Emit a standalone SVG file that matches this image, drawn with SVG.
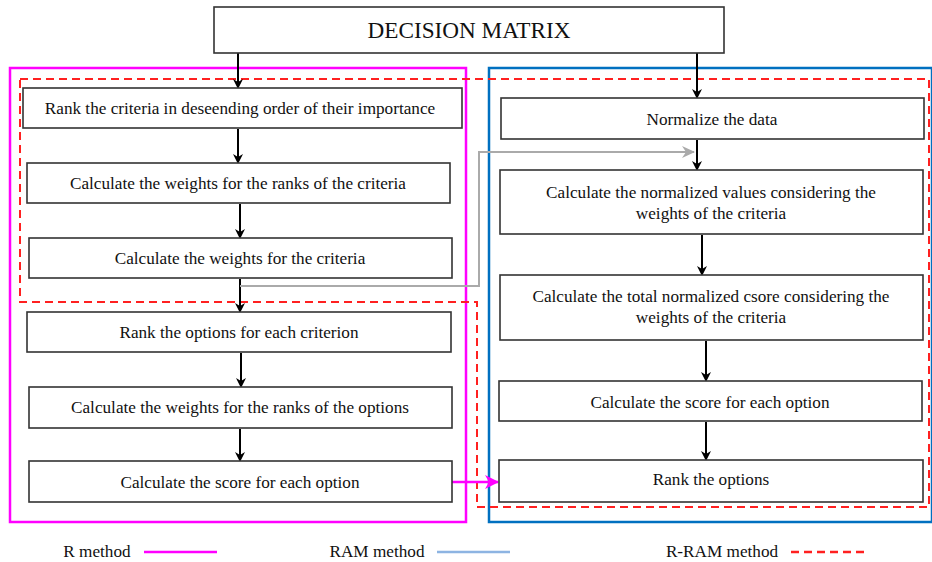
<svg xmlns="http://www.w3.org/2000/svg" width="932" height="562" viewBox="0 0 932 562">
<style>
.box{fill:#fff;stroke:#333;stroke-width:1.6}
.t{font-family:"Liberation Serif","Times New Roman",serif;font-size:17.2px;fill:#111;text-anchor:middle}
.arr{stroke:#000;stroke-width:2;fill:none;marker-end:url(#ah)}
</style>
<defs>
<marker id="ah" markerWidth="10" markerHeight="12" refX="8" refY="5" orient="auto" markerUnits="userSpaceOnUse"><path d="M0,0 L10,5 L0,10 L3,5 Z" fill="#000"/></marker>
<marker id="ahg" markerWidth="14" markerHeight="12" refX="12" refY="6" orient="auto" markerUnits="userSpaceOnUse"><path d="M0,0 L13,6 L0,12 L4,6 Z" fill="#aaa"/></marker>
<marker id="ahm" markerWidth="14" markerHeight="14" refX="13" refY="7" orient="auto" markerUnits="userSpaceOnUse"><path d="M0,0 L14,7 L0,14 L4,7 Z" fill="#ff00ff"/></marker>
</defs>
<g id="frames">
<rect x="10" y="68" width="456" height="454" fill="none" stroke="#ff00ff" stroke-width="2.5"/>
<rect x="489" y="68" width="443" height="454" fill="none" stroke="#0070c0" stroke-width="2.5"/>
<path d="M20,79 L929,79 L929,507 L477,507 L477,302 L20,302 Z" fill="none" stroke="#ff2020" stroke-width="2" stroke-dasharray="8,5"/>
</g>
<g id="connectors">
<line class="arr" x1="238" y1="53" x2="238" y2="87"/>
<line class="arr" x1="238" y1="129" x2="238" y2="162"/>
<line class="arr" x1="240" y1="204" x2="240" y2="237"/>
<line class="arr" x1="240" y1="279" x2="240" y2="311"/>
<line class="arr" x1="241" y1="353" x2="241" y2="386"/>
<line class="arr" x1="240" y1="429" x2="240" y2="460"/>
<line class="arr" x1="697" y1="53" x2="697" y2="97"/>
<line class="arr" x1="697" y1="140" x2="697" y2="169"/>
<line class="arr" x1="702" y1="235" x2="702" y2="274"/>
<line class="arr" x1="706" y1="341" x2="706" y2="380"/>
<line class="arr" x1="706" y1="422" x2="706" y2="459"/>
<path d="M240,286 L479,286 L479,152 L694,152" fill="none" stroke="#aaa" stroke-width="2" marker-end="url(#ahg)"/>
<line x1="452" y1="482" x2="498" y2="482" stroke="#ff00ff" stroke-width="2.5" marker-end="url(#ahm)"/>
</g>
<g id="n-dm"><rect class="box" x="214" y="7" width="510" height="46"/><text class="t" x="469" y="38" style="font-size:23.2px">DECISION MATRIX</text></g>
<g id="n-l1"><rect class="box" x="23" y="88" width="439" height="40"/><text class="t" x="240" y="114">Rank the criteria in deseending order of their importance</text></g>
<g id="n-l2"><rect class="box" x="27" y="163" width="423" height="40"/><text class="t" x="238" y="189">Calculate the weights for the ranks of the criteria</text></g>
<g id="n-l3"><rect class="box" x="29" y="238" width="423" height="40"/><text class="t" x="240" y="264">Calculate the weights for the criteria</text></g>
<g id="n-l4"><rect class="box" x="27" y="312" width="424" height="40"/><text class="t" x="239" y="338">Rank the options for each criterion</text></g>
<g id="n-l5"><rect class="box" x="29" y="387" width="423" height="41"/><text class="t" x="240" y="413">Calculate the weights for the ranks of the options</text></g>
<g id="n-l6"><rect class="box" x="29" y="461" width="423" height="41"/><text class="t" x="240" y="488">Calculate the score for each option</text></g>
<g id="n-r1"><rect class="box" x="501" y="98" width="423" height="41"/><text class="t" x="712" y="125">Normalize the data</text></g>
<g id="n-r2"><rect class="box" x="500" y="170" width="423" height="64"/><text class="t" x="711" y="198">Calculate the normalized values considering the</text><text class="t" x="711" y="219">weights of the criteria</text></g>
<g id="n-r3"><rect class="box" x="500" y="275" width="423" height="65"/><text class="t" x="711" y="302">Calculate the total normalized csore considering the</text><text class="t" x="711" y="323">weights of the criteria</text></g>
<g id="n-r4"><rect class="box" x="499" y="381" width="423" height="40"/><text class="t" x="710" y="408">Calculate the score for each option</text></g>
<g id="n-r5"><rect class="box" x="499" y="460" width="424" height="42"/><text class="t" x="711" y="485">Rank the options</text></g>
<g id="legend">
<text class="t" x="97" y="557">R method</text>
<line x1="144" y1="552" x2="217" y2="552" stroke="#ff00ff" stroke-width="2.5"/>
<text class="t" x="377" y="557">RAM method</text>
<line x1="437" y1="552" x2="510" y2="552" stroke="#8db4e2" stroke-width="2.5"/>
<text class="t" x="722" y="557">R-RAM method</text>
<line x1="791" y1="552" x2="864" y2="552" stroke="#ff2020" stroke-width="2.5" stroke-dasharray="8,5"/>
</g>
</svg>
